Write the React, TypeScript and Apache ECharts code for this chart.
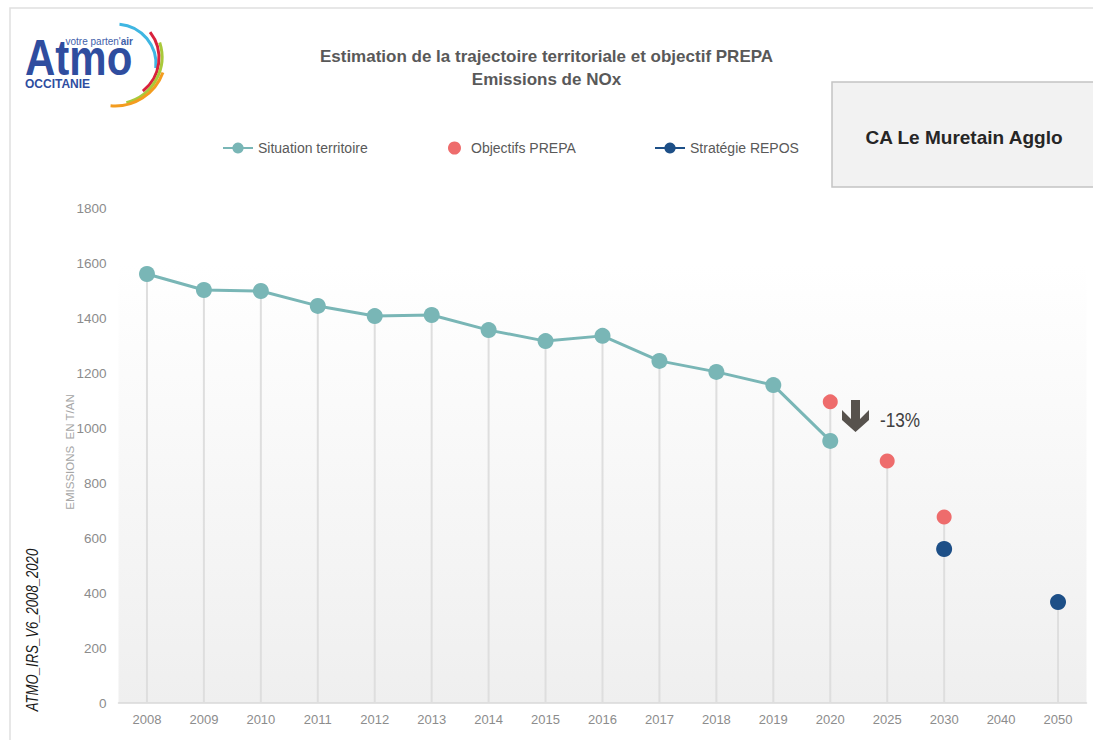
import React, { useEffect, useRef } from "react";
import * as echarts from "echarts";

const categories = ["2008", "2009", "2010", "2011", "2012", "2013", "2014", "2015", "2016", "2017", "2018", "2019", "2020", "2025", "2030", "2040", "2050"];
const situationTerritoire = [1560, 1502, 1498, 1444, 1407, 1411, 1356, 1316, 1335, 1244, 1204, 1156, 953, null, null, null, null];
const objectifsPrepa = [null, null, null, null, null, null, null, null, null, null, null, null, 1095, 880, 676, null, null];
const strategieRepos = [null, null, null, null, null, null, null, null, null, null, null, null, null, null, 560, null, 367];
const seriesNames = ["Situation territoire", "Objectifs PREPA", "Stratégie REPOS"];
const titleLines = ["Estimation de la trajectoire territoriale et objectif PREPA", "Emissions de NOx"];
const territoryName = "CA Le Muretain Agglo";
const reductionLabel = "-13%";
const yAxisName = "EMISSIONS  EN T/AN";
const sourceLabel = "ATMO_IRS_V6_2008_2020";
const yMin = 0;
const yMax = 1800;
const yInterval = 200;

const SANS = "'Liberation Sans', Arial, sans-serif";

export default function App() {
  const ref = useRef<HTMLDivElement>(null);
  useEffect(() => {
    document.body.style.margin = "0";
    if (!ref.current) return;
    const chart = echarts.init(ref.current, null, { renderer: "svg" });
    const dropLines = categories.map((_, i) => {
      const vals = [situationTerritoire[i], objectifsPrepa[i], strategieRepos[i]].filter((v) => v !== null) as number[];
      return vals.length ? Math.max(...vals) : null;
    });
    const legendText = { color: "#595959", fontSize: 14, fontFamily: SANS };
    const deg = (d: number) => (d * Math.PI) / 180;
    chart.setOption({
      animation: false,
      backgroundColor: "#ffffff",
      title: {
        text: titleLines.join("\n"),
        left: "center",
        top: 40,
        textStyle: { color: "#595959", fontSize: 17, fontWeight: "bold", fontFamily: SANS, lineHeight: 23 },
      },
      legend: [
        { data: [seriesNames[0]], left: 217, top: 136, itemWidth: 30, itemHeight: 14, textStyle: legendText },
        { data: [seriesNames[1]], left: 443, top: 136, itemWidth: 13, itemHeight: 13, textStyle: { ...legendText, padding: [0, 0, 0, 5] } },
        { data: [seriesNames[2]], left: 649, top: 136, itemWidth: 30, itemHeight: 14, textStyle: legendText },
      ],
      grid: { left: 118.5, right: 6.5, top: 208, bottom: 37, containLabel: false },
      xAxis: {
        type: "category",
        data: categories,
        axisLine: { lineStyle: { color: "#d9d9d9", width: 1.5 } },
        axisTick: { show: false },
        axisLabel: { color: "#8c8c8c", fontSize: 13, fontFamily: SANS, margin: 10 },
        splitLine: { show: false },
      },
      yAxis: {
        type: "value",
        min: yMin,
        max: yMax,
        interval: yInterval,
        axisLine: { show: false },
        axisTick: { show: false },
        splitLine: { show: false },
        axisLabel: { color: "#8c8c8c", fontSize: 13.5, fontFamily: SANS, margin: 12, formatter: (v: number) => String(v) },
      },
      graphic: [
        {
          type: "rect",
          z: -10,
          shape: { x: 10, y: 8, width: 1100, height: 760 },
          style: { fill: "#ffffff", stroke: "#e0e0e0", lineWidth: 1.5 },
        },
        {
          type: "rect",
          z: -5,
          shape: { x: 118.5, y: 265, width: 968, height: 438 },
          style: {
            fill: new echarts.graphic.LinearGradient(0, 0, 0, 1, [
              { offset: 0, color: "#ffffff" },
              { offset: 1, color: "#efefef" },
            ]),
          },
        },
        // logo
        { type: "arc", shape: { cx: 116, cy: 64, r: 40, startAngle: deg(-85), endAngle: deg(6), clockwise: true }, style: { stroke: "#3fb6e2", lineWidth: 3, fill: null } },
        { type: "arc", shape: { cx: 117, cy: 58, r: 42, startAngle: deg(-38), endAngle: deg(52), clockwise: true }, style: { stroke: "#d9213c", lineWidth: 3, fill: null } },
        { type: "arc", shape: { cx: 115, cy: 57, r: 47, startAngle: deg(-18), endAngle: deg(76), clockwise: true }, style: { stroke: "#a9c93b", lineWidth: 3, fill: null } },
        { type: "arc", shape: { cx: 115, cy: 55, r: 51, startAngle: deg(20), endAngle: deg(95), clockwise: true }, style: { stroke: "#f39c1f", lineWidth: 3, fill: null } },
        {
          type: "text",
          x: 25,
          y: 57.5,
          scaleX: 0.84,
          style: { text: "Atmo", fill: "#2f4d9f", font: `bold 50px ${SANS}`, textAlign: "left", textVerticalAlign: "middle", lineHeight: 34 },
        },
        {
          type: "text",
          x: 133,
          y: 41,
          style: {
            text: "{a|votre parten'}{b|air}",
            textAlign: "right",
            textVerticalAlign: "middle",
            rich: {
              a: { fill: "#3f5faa", fontSize: 10, fontFamily: SANS },
              b: { fill: "#3f5faa", fontSize: 10, fontWeight: "bold", fontFamily: SANS },
            },
          },
        },
        {
          type: "text",
          x: 25,
          y: 84,
          style: { text: "OCCITANIE", fill: "#2f4d9f", font: `bold 12px ${SANS}`, textAlign: "left", textVerticalAlign: "middle" },
        },
        // territory box
        {
          type: "rect",
          shape: { x: 832, y: 82, width: 270, height: 105 },
          style: { fill: "#f2f2f2", stroke: "#c4c4c4", lineWidth: 1.5 },
        },
        {
          type: "text",
          x: 964,
          y: 137,
          style: { text: territoryName, fill: "#262626", font: `bold 19px ${SANS}`, textAlign: "center", textVerticalAlign: "middle" },
        },
        // y axis name
        {
          type: "text",
          x: 70,
          y: 452,
          rotation: Math.PI / 2,
          style: { text: yAxisName, fill: "#a6a6a6", font: `11.5px ${SANS}`, textAlign: "center", textVerticalAlign: "middle" },
        },
        {
          type: "text",
          x: 33,
          y: 630,
          rotation: Math.PI / 2,
          scaleX: 0.82,
          style: { text: sourceLabel, fill: "#1a1a1a", font: `italic 16px ${SANS}`, textAlign: "center", textVerticalAlign: "middle" },
        },
        // arrow and reduction label
        {
          type: "polygon",
          z: 10,
          shape: {
            points: [
              [851, 400], [860, 400], [860, 419], [869, 410], [869, 420], [855.5, 432], [842, 420], [842, 410], [851, 419],
            ],
          },
          style: { fill: "#57524d" },
        },
        {
          type: "text",
          x: 880,
          y: 420,
          z: 10,
          scaleX: 0.86,
          style: { text: reductionLabel, fill: "#404040", font: `20px ${SANS}`, textAlign: "left", textVerticalAlign: "middle" },
        },
      ],
      series: [
        {
          name: "drop",
          type: "bar",
          data: dropLines,
          barWidth: 2,
          itemStyle: { color: "#dedede" },
          silent: true,
          z: 1,
        },
        {
          name: seriesNames[0],
          type: "line",
          data: situationTerritoire,
          symbol: "circle",
          symbolSize: 16,
          itemStyle: { color: "#79b6b6" },
          lineStyle: { color: "#79b6b6", width: 3 },
          z: 3,
        },
        {
          name: seriesNames[1],
          type: "scatter",
          data: objectifsPrepa,
          symbol: "circle",
          symbolSize: 15,
          itemStyle: { color: "#ee6c6c", opacity: 1 },
          z: 3,
        },
        {
          name: seriesNames[2],
          type: "line",
          data: strategieRepos,
          symbol: "circle",
          symbolSize: 16,
          connectNulls: false,
          itemStyle: { color: "#1d4f87" },
          lineStyle: { color: "#1d4f87", width: 3 },
          z: 3,
        },
      ],
    });
    return () => chart.dispose();
  }, []);
  return <div ref={ref} style={{ width: 1093, height: 740 }} />;
}
